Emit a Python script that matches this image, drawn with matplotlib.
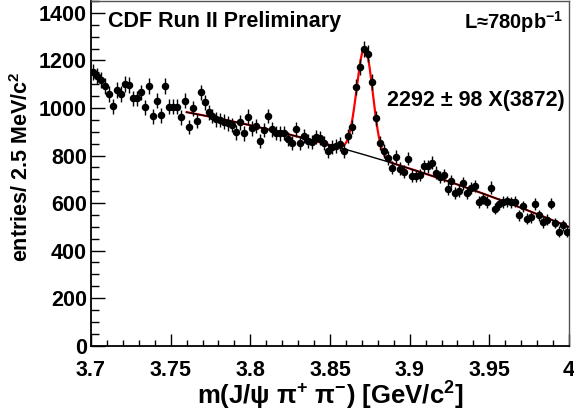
import matplotlib
matplotlib.use("Agg")
import matplotlib.pyplot as plt
from matplotlib.ticker import MultipleLocator
import numpy as np

plt.rcParams['font.family'] = ['Liberation Sans', 'DejaVu Sans']
plt.rcParams['font.weight'] = 'bold'
plt.rcParams['mathtext.fontset'] = 'custom'
plt.rcParams['mathtext.rm'] = 'Liberation Sans:bold'
plt.rcParams['mathtext.it'] = 'Liberation Sans:bold'
plt.rcParams['mathtext.bf'] = 'Liberation Sans:bold'
plt.rcParams['mathtext.default'] = 'rm'

# histogram: 120 bins of 2.5 MeV from 3.70 to 4.00 GeV
bin_lo, bin_hi, n_bins = 3.70, 4.00, 120
counts = [
    1153, 1136, 1117, 1093, 1058, 1007, 1075, 1058, 1100, 1097,
    1041, 1041, 1066, 1003, 1091, 965, 1030, 970, 1093, 1006,
    1006, 1006, 961, 1030, 920, 999, 946, 1066, 1024, 982,
    966, 952, 949, 942, 935, 928, 897, 940, 893, 963,
    914, 925, 861, 907, 966, 910, 896, 893, 896, 868,
    854, 910, 854, 882, 862, 855, 876, 872, 851, 820,
    837, 840, 848, 818, 883, 920, 1087, 1172, 1248, 1228,
    1108, 957, 852, 820, 790, 748, 795, 745, 731, 787,
    715, 714, 718, 754, 754, 769, 728, 710, 717, 661,
    692, 643, 650, 683, 643, 663, 671, 605, 619, 605,
    665, 577, 596, 605, 607, 603, 606, 549, 586, 535,
    541, 597, 549, 520, 530, 598, 516, 480, 506, 480,
]
xtick_vals = [3.7, 3.75, 3.8, 3.85, 3.9, 3.95, 4.0]
xtick_labels = ['3.7', '3.75', '3.8', '3.85', '3.9', '3.95', '4']

# fit: quadratic background (in m - 3.85) + gaussian
fit_lo, fit_hi = 3.760, 4.000
bkg_coef = [844.0, -1822.0, -3163.0]
sig_amp, sig_mean, sig_width = 450.0, 3.8718, 0.0050

edges = np.linspace(bin_lo, bin_hi, n_bins + 1)
centers = 0.5 * (edges[:-1] + edges[1:])
counts = np.array(counts, dtype=float)
errors = np.sqrt(counts)

m = np.linspace(fit_lo, fit_hi, 600)
u = m - 3.85
bkg = bkg_coef[0] + bkg_coef[1] * u + bkg_coef[2] * u ** 2
total = bkg + sig_amp * np.exp(-0.5 * ((m - sig_mean) / sig_width) ** 2)

fig = plt.figure(figsize=(5.74, 4.11), dpi=100)
ax = fig.add_axes([91 / 574, 65.3 / 411, 478 / 574, 344.7 / 411])

ax.plot(m, total, color='red', lw=1.6, zorder=2)
ax.plot(m, bkg, color='black', lw=1.0, zorder=3)
ax.errorbar(centers, counts, yerr=errors, fmt='o', color='black', ms=4.4,
            elinewidth=1.0, capsize=0, zorder=4)

ax.set_xlim(bin_lo, bin_hi)
ax.set_ylim(0, 1450)
ax.xaxis.set_minor_locator(MultipleLocator(0.01))
ax.yaxis.set_major_locator(MultipleLocator(200))
ax.yaxis.set_minor_locator(MultipleLocator(50))
ax.set_xticks(xtick_vals)
ax.set_xticklabels(xtick_labels)
ax.tick_params(axis='both', which='both', direction='in', top=False, right=False,
               labelsize=15.5, width=1.0)
ax.tick_params(axis='x', which='major', length=9, pad=10)
ax.tick_params(axis='x', which='minor', length=4.5)
ax.tick_params(axis='y', which='major', length=10, pad=3)
ax.tick_params(axis='y', which='minor', length=6)
for lab in ax.get_xticklabels() + ax.get_yticklabels():
    lab.set_fontweight('bold')

for side in ['left', 'bottom']:
    ax.spines[side].set_linewidth(1.3)
for side in ['top', 'right']:
    ax.spines[side].set_linewidth(1.0)
    ax.spines[side].set_color('#555555')

fig.text(108 / 574, 1 - 22 / 411, 'CDF Run II Preliminary', fontsize=15.5,
         fontweight='bold', ha='left', va='center')
fig.text(563 / 574, 1 - 22 / 411, r'L≈780pb$^{-1}$', fontsize=14.5,
         fontweight='bold', ha='right', va='center')
fig.text(565 / 574, 1 - 100 / 411, '2292 ± 98 X(3872)', fontsize=15.5,
         fontweight='bold', ha='right', va='center')

fig.text(22 / 574, 1 - 72 / 411, r'entries/ 2.5 MeV/c$^{2}$', fontsize=15.5,
         fontweight='bold', rotation=90, ha='center', va='top')
fig.text(330 / 574, 1 - 405 / 411, r'm(J/ψ π$^{+}$ π$^{-}$) [GeV/c$^{2}$]',
         fontsize=18.5, fontweight='bold', ha='center', va='baseline')

fig.savefig('out.png', dpi=100)
